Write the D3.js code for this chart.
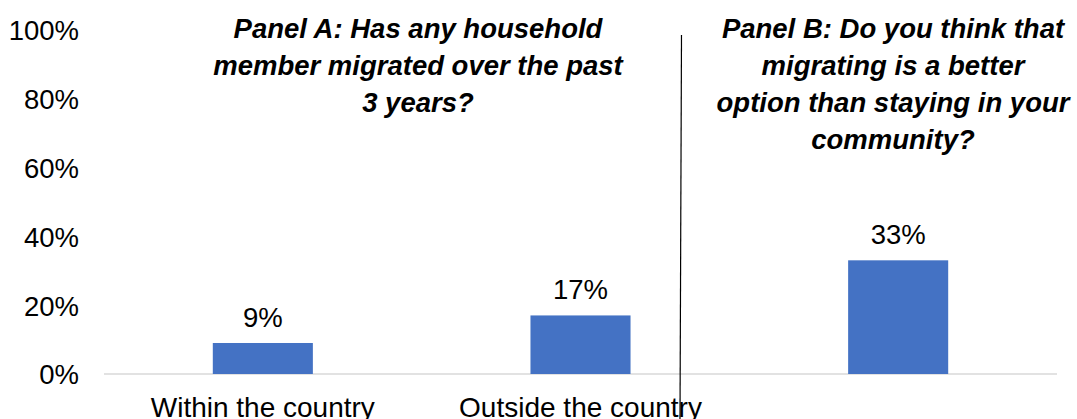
<!DOCTYPE html>
<html>
<head>
<meta charset="utf-8">
<script src="https://cdn.jsdelivr.net/npm/d3@7"></script>
<style>
  html, body { margin: 0; padding: 0; background: #fff; }
  svg { display: block; }
  text { font-family: "Liberation Sans", Arial, sans-serif; fill: #000; }
</style>
</head>
<body>
<svg id="chart" width="1077" height="419"></svg>
<script>
// Survey responses: share of respondents (fraction of 1)
const categories = ["within", "outside", "better"];
const categoryLabels = ["Within the country", "Outside the country", ""];
const shares = [0.09, 0.17, 0.33];
const valueLabels = ["9%", "17%", "33%"];
const yTicks = [0, 0.2, 0.4, 0.6, 0.8, 1.0];
const yTickLabels = ["0%", "20%", "40%", "60%", "80%", "100%"];
const panelATitle = ["Panel A: Has any household", "member migrated over the past", "3 years?"];
const panelBTitle = ["Panel B: Do you think that", "migrating is a better", "option than staying in your", "community?"];

const svg = d3.select("#chart");
const plotLeft = 104, plotRight = 1057, baseY = 374, topY = 29.5;

const x = d3.scaleBand().domain(categories).range([plotLeft, plotRight]).padding(0);
const y = d3.scaleLinear().domain([0, 1]).range([baseY, topY]);
const barW = x.bandwidth() * 0.315;

// y-axis tick labels (no axis line, no gridlines)
const yAxis = d3.axisLeft(y).tickValues(yTicks)
  .tickFormat((d, i) => yTickLabels[i]).tickSize(0).tickPadding(0);
const gy = svg.append("g").attr("transform", "translate(79,0)").call(yAxis);
gy.select(".domain").remove();
gy.selectAll("text")
  .attr("font-family", "Liberation Sans, Arial, sans-serif")
  .attr("font-size", 27.5).attr("fill", "#000").attr("dy", "0.36em");

// baseline
svg.append("line")
  .attr("x1", plotLeft).attr("x2", plotRight)
  .attr("y1", y(0)).attr("y2", y(0))
  .attr("stroke", "#d9d9d9").attr("stroke-width", 1.5);

// bars
svg.selectAll("rect.bar").data(categories).enter().append("rect")
  .attr("class", "bar")
  .attr("x", d => x(d) + (x.bandwidth() - barW) / 2)
  .attr("width", barW)
  .attr("y", (d, i) => y(shares[i]))
  .attr("height", (d, i) => y(0) - y(shares[i]))
  .attr("fill", "#4472C4");

// value labels
svg.selectAll("text.val").data(categories).enter().append("text")
  .attr("class", "val")
  .attr("x", d => x(d) + x.bandwidth() / 2)
  .attr("y", (d, i) => y(shares[i]) - 16)
  .attr("text-anchor", "middle")
  .attr("font-size", 27.5)
  .text((d, i) => valueLabels[i]);

// category labels
svg.selectAll("text.cat").data(categories).enter().append("text")
  .attr("class", "cat")
  .attr("x", d => x(d) + x.bandwidth() / 2)
  .attr("y", 417)
  .attr("text-anchor", "middle")
  .attr("font-size", 28)
  .text((d, i) => categoryLabels[i]);

// panel divider
svg.append("line")
  .attr("x1", 681.5).attr("y1", 35).attr("x2", 680).attr("y2", 419)
  .attr("stroke", "#000").attr("stroke-width", 1.2);

// panel titles
function title(lines, cx, y0) {
  const t = svg.append("text")
    .attr("text-anchor", "middle")
    .attr("font-size", 27.5)
    .attr("font-weight", "bold")
    .attr("font-style", "italic");
  lines.forEach((l, i) => {
    t.append("tspan").attr("x", cx).attr("y", y0 + i * 37).text(l);
  });
}
title(panelATitle, 418, 38);
title(panelBTitle, 893, 37.5);
</script>
</body>
</html>
